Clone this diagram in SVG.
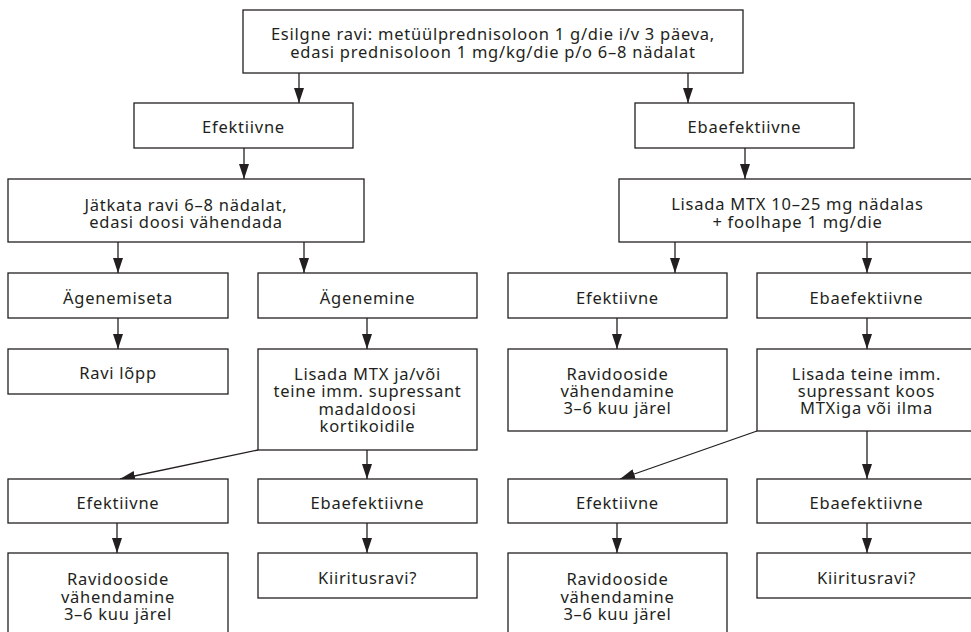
<svg xmlns="http://www.w3.org/2000/svg" width="971" height="632" viewBox="0 0 971 632">
<style>
.box{fill:#fff;stroke:#231f20;stroke-width:1.3}
.t{font-family:"Noto Sans","Liberation Sans",sans-serif;font-size:16.5px;letter-spacing:0.75px;fill:#231f20;text-anchor:middle}
.c{fill:none;stroke:#231f20;stroke-width:1.3;marker-end:url(#ah)}
</style>
<defs>
<marker id="ah" viewBox="0 0 15 10" refX="15" refY="5" markerWidth="15" markerHeight="10" markerUnits="userSpaceOnUse" orient="auto">
<path d="M0,0 L15,5 L0,10 z" fill="#231f20"/>
</marker>
</defs>
<rect width="971" height="632" fill="#fff"/>
<g id="connectors">
<line class="c" x1="299" y1="73" x2="299" y2="103"/>
<line class="c" x1="688" y1="73" x2="688" y2="103"/>
<line class="c" x1="244" y1="148" x2="244" y2="179"/>
<line class="c" x1="745" y1="148" x2="745" y2="179"/>
<line class="c" x1="118" y1="242" x2="118" y2="273"/>
<line class="c" x1="304" y1="242" x2="304" y2="273"/>
<line class="c" x1="675" y1="242" x2="675" y2="273"/>
<line class="c" x1="867" y1="242" x2="867" y2="273"/>
<line class="c" x1="118" y1="318" x2="118" y2="349"/>
<line class="c" x1="367" y1="318" x2="367" y2="349"/>
<line class="c" x1="617" y1="318" x2="617" y2="349"/>
<line class="c" x1="867" y1="318" x2="867" y2="349"/>
<line class="c" x1="258" y1="450" x2="120" y2="479"/>
<line class="c" x1="367" y1="450" x2="367" y2="479"/>
<line class="c" x1="757" y1="431" x2="620" y2="479"/>
<line class="c" x1="867" y1="431" x2="867" y2="479"/>
<line class="c" x1="117" y1="523" x2="117" y2="553"/>
<line class="c" x1="367" y1="523" x2="367" y2="553"/>
<line class="c" x1="617" y1="523" x2="617" y2="553"/>
<line class="c" x1="867" y1="523" x2="867" y2="553"/>
</g>
<g id="n_start"><rect class="box" x="243" y="10" width="500" height="63"/>
<text class="t" x="493" y="40">Esilgne ravi: metüülprednisoloon 1 g/die i/v 3 päeva,</text>
<text class="t" x="493" y="57.5">edasi prednisoloon 1 mg/kg/die p/o 6–8 nädalat</text></g>
<g id="n_ef1"><rect class="box" x="134" y="103" width="219" height="45"/>
<text class="t" x="243.5" y="133">Efektiivne</text></g>
<g id="n_ebaef1"><rect class="box" x="635" y="103" width="219" height="45"/>
<text class="t" x="744.5" y="133">Ebaefektiivne</text></g>
<g id="n_jatkata"><rect class="box" x="8" y="179" width="356" height="63"/>
<text class="t" x="186" y="210.5">Jätkata ravi 6–8 nädalat,</text>
<text class="t" x="186" y="228">edasi doosi vähendada</text></g>
<g id="n_mtx"><rect class="box" x="619" y="179" width="357" height="63"/>
<text class="t" x="797.5" y="210">Lisada MTX 10–25 mg nädalas</text>
<text class="t" x="797.5" y="227.5">+ foolhape 1 mg/die</text></g>
<g id="n_agenemiseta"><rect class="box" x="8" y="273" width="220" height="45"/>
<text class="t" x="118" y="304">Ägenemiseta</text></g>
<g id="n_agenemine"><rect class="box" x="258" y="273" width="219" height="45"/>
<text class="t" x="367.5" y="304">Ägenemine</text></g>
<g id="n_ef2"><rect class="box" x="508" y="273" width="219" height="45"/>
<text class="t" x="617.5" y="304">Efektiivne</text></g>
<g id="n_ebaef2"><rect class="box" x="757" y="273" width="219" height="45"/>
<text class="t" x="866.5" y="304">Ebaefektiivne</text></g>
<g id="n_ravilopp"><rect class="box" x="8" y="349" width="220" height="45"/>
<text class="t" x="118" y="378.5">Ravi lõpp</text></g>
<g id="n_lisada1"><rect class="box" x="258" y="349" width="219" height="101"/>
<text class="t" x="367.5" y="379.5">Lisada MTX ja/või</text>
<text class="t" x="367.5" y="397">teine imm. supressant</text>
<text class="t" x="367.5" y="414.5">madaldoosi</text>
<text class="t" x="367.5" y="432">kortikoidile</text></g>
<g id="n_ravid1"><rect class="box" x="508" y="349" width="219" height="82"/>
<text class="t" x="617.5" y="380">Ravidooside</text>
<text class="t" x="617.5" y="397">vähendamine</text>
<text class="t" x="617.5" y="414">3–6 kuu järel</text></g>
<g id="n_lisada2"><rect class="box" x="757" y="349" width="219" height="82"/>
<text class="t" x="866.5" y="380">Lisada teine imm.</text>
<text class="t" x="866.5" y="397">supressant koos</text>
<text class="t" x="866.5" y="414">MTXiga või ilma</text></g>
<g id="n_ef3"><rect class="box" x="8" y="479" width="220" height="44"/>
<text class="t" x="118" y="508.5">Efektiivne</text></g>
<g id="n_ebaef3"><rect class="box" x="258" y="479" width="219" height="44"/>
<text class="t" x="367.5" y="508.5">Ebaefektiivne</text></g>
<g id="n_ef4"><rect class="box" x="508" y="479" width="219" height="44"/>
<text class="t" x="617.5" y="508.5">Efektiivne</text></g>
<g id="n_ebaef4"><rect class="box" x="757" y="479" width="219" height="44"/>
<text class="t" x="866.5" y="508.5">Ebaefektiivne</text></g>
<g id="n_ravid2"><rect class="box" x="8" y="553" width="220" height="82"/>
<text class="t" x="118" y="585">Ravidooside</text>
<text class="t" x="118" y="602.5">vähendamine</text>
<text class="t" x="118" y="620">3–6 kuu järel</text></g>
<g id="n_kiir1"><rect class="box" x="258" y="553" width="219" height="45"/>
<text class="t" x="367.5" y="584">Kiiritusravi?</text></g>
<g id="n_ravid3"><rect class="box" x="508" y="553" width="219" height="82"/>
<text class="t" x="617.5" y="585">Ravidooside</text>
<text class="t" x="617.5" y="602.5">vähendamine</text>
<text class="t" x="617.5" y="620">3–6 kuu järel</text></g>
<g id="n_kiir2"><rect class="box" x="757" y="553" width="219" height="45"/>
<text class="t" x="866.5" y="584">Kiiritusravi?</text></g>
</svg>
